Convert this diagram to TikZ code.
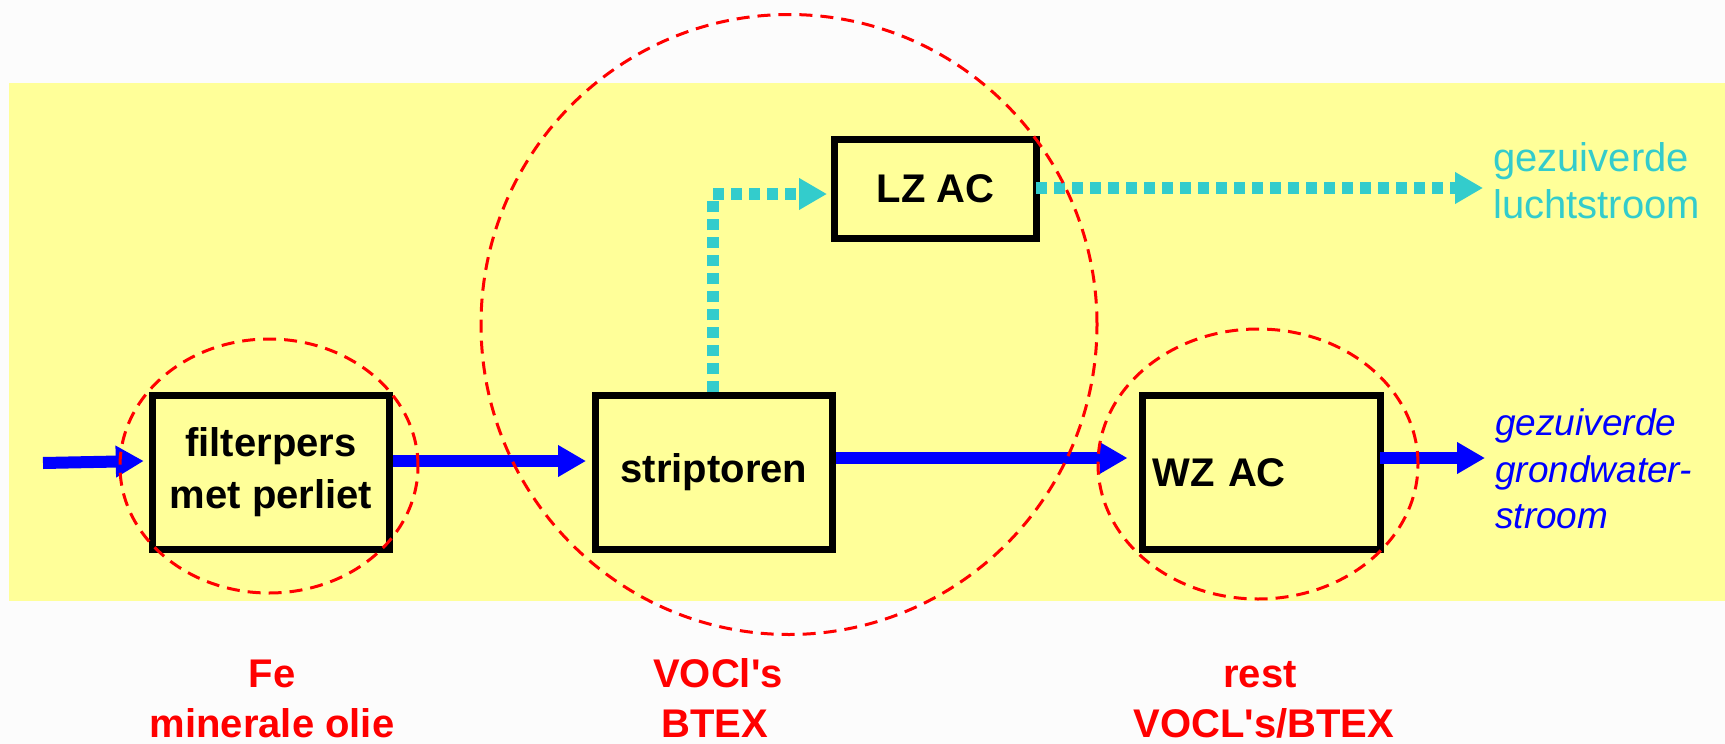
\documentclass[tikz,border=0pt]{standalone}
\usepackage{fontspec}
\setmainfont{Liberation Sans}[Ligatures=TeXOff]
\usetikzlibrary{arrows.meta,calc}
\definecolor{bandyellow}{HTML}{FFFF99}
\definecolor{flowblue}{HTML}{0000FF}
\definecolor{aircyan}{HTML}{33CCCC}
\definecolor{zonered}{HTML}{FF0000}
\definecolor{pagebg}{HTML}{FCFCFC}
\begin{document}
\begin{tikzpicture}[x=1pt,y=-1pt,
  procbox/.style={draw=black, line width=7pt, inner sep=0pt, font=\fontsize{40pt}{52pt}\selectfont\bfseries, align=center},
  bluearrow/.style={draw=flowblue, line width=12pt, -{Triangle[length=28pt,width=30pt]}},
  cyanarrow/.style={draw=aircyan, line width=12pt, dash pattern=on 11pt off 7pt, -{Triangle[length=28pt,width=30pt]}},
  zone/.style={draw=zonered, line width=3pt, dash pattern=on 13pt off 8pt},
  redlabel/.style={text=zonered, font=\fontsize{40pt}{48pt}\selectfont\bfseries, inner sep=0pt, anchor=base},
  airtext/.style={text=aircyan, font=\fontsize{40pt}{46pt}\selectfont, inner sep=0pt, anchor=base west},
  gwtext/.style={text=flowblue, font=\fontsize{37pt}{46pt}\selectfont\itshape, inner sep=0pt, anchor=base west}
]
\useasboundingbox (0,0) rectangle (1725,744);
\fill[pagebg] (0,0) rectangle (1725,744);
\fill[bandyellow] (9,82.5) rectangle (1725,600.5);

% process boxes
\node[procbox, minimum width=237.5pt, minimum height=154pt] (filt) at (271,472.5) {filterpers\\met perliet};
\node[procbox, minimum width=237pt, minimum height=154pt] (strip) at (714,472.5) {striptoren};
\node[procbox, minimum width=202pt, minimum height=99pt] (lz) at (935.5,189) {LZ AC};
\node[procbox, minimum width=238pt, minimum height=154pt, text width=218pt, align=left, inner xsep=10pt] (wz) at (1261.5,472.5) {WZ AC};

% water flow
\coordinate (src) at (43,463);
\coordinate (gwout) at (1485,458);
\draw[bluearrow] (src) -- ($(filt.west)+(-5,-11.5)$);
\draw[bluearrow] ($(filt.east)+(0,-11.5)$) -- ($(strip.west)+(-6,-11.5)$);
\draw[bluearrow] ($(strip.east)+(0,-14.5)$) -- ($(wz.west)+(-11.5,-14.5)$);
\draw[bluearrow] ($(wz.east)+(-4,-14.5)$) -- (gwout);

% air flow
\coordinate (airout) at (1483,188);
\draw[cyanarrow] ($(strip.north)+(-1,0)$) |- ($(lz.west)+(-4,5)$);
\draw[cyanarrow] ($(lz.east)+(-4,-1)$) -- (airout);

% zones
\draw[zone] (269,466) ellipse [x radius=149pt, y radius=127pt];
\draw[zone] (789,324.5) ellipse [x radius=308pt, y radius=310pt];
\draw[zone] (1258,464) ellipse [x radius=160pt, y radius=135pt];

% outlet texts
\node[airtext] (air1) at (1493,171) {gezuiverde};
\node[airtext] (air2) at (1493,218) {luchtstroom};
\node[gwtext] (gw1) at (1495,435) {gezuiverde};
\node[gwtext] (gw2) at (1495,482) {grondwater-};
\node[gwtext] (gw3) at (1495,528) {stroom};

% zone labels
\node[redlabel] (fe) at (272,687) {Fe};
\node[redlabel] (mo) at (272,737) {minerale olie};
\node[redlabel] (voc) at (718,687) {VOCl's};
\node[redlabel] (btex) at (715,737) {BTEX};
\node[redlabel] (rest) at (1260,687) {rest};
\node[redlabel] (vb) at (1264,737) {VOCL's/BTEX};
\end{tikzpicture}
\end{document}
